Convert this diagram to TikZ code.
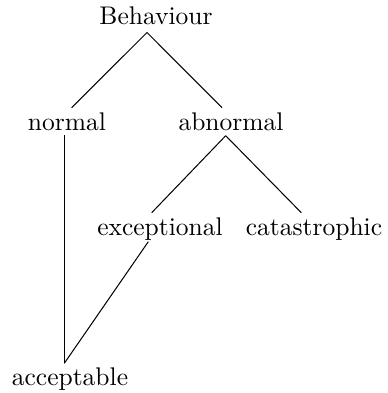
\documentclass[tikz,border=0pt]{standalone}
\begin{document}
\begin{tikzpicture}[x=0.392pt,y=-0.392pt,every node/.style={anchor=base,inner sep=0pt}]
        \useasboundingbox (0,0) rectangle (387,393);
        \node (beh) at (156,25) {Behaviour};
        \node (normal) at (67,130) {normal};
        \node (abnormal) at (231,130) {abnormal};
        \node (exc) at (160,235) {exceptional};
        \node (cat) at (314,235) {catastrophic};
        \node (acc) at (70,385) {acceptable};
        \draw ([shift={(-9,7.5)}]beh.base) -- ([shift={(4.7,-22.3)}]normal.base);
        \draw ([shift={(-9,7.5)}]beh.base) -- ([shift={(-9,-22.3)}]abnormal.base);
        \draw ([shift={(-2.7,5)}]normal.base) -- ([shift={(-5.7,-21.7)}]acc.base);
        \draw ([shift={(-5.3,5.7)}]abnormal.base) -- ([shift={(-8.3,-22.3)}]exc.base);
        \draw ([shift={(-5.3,5.7)}]abnormal.base) -- ([shift={(-12.7,-22.3)}]cat.base);
        \draw ([shift={(-11.7,6.7)}]exc.base) -- ([shift={(-5.7,-21.7)}]acc.base);
    \end{tikzpicture}
\end{document}
